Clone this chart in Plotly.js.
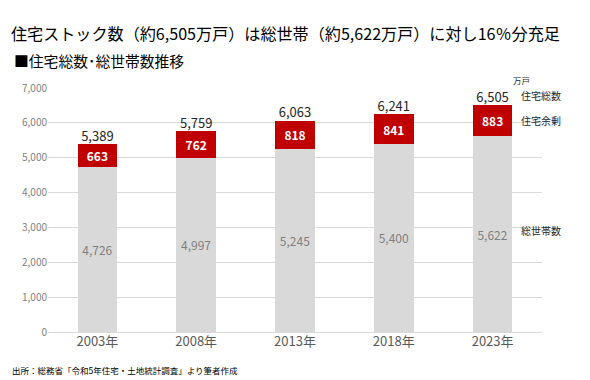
<!DOCTYPE html>
<html><head><meta charset="utf-8">
<script src="https://cdn.plot.ly/plotly-3.0.1.min.js"></script>
<style>body{margin:0;background:#fff}#c{width:590px;height:380px}</style>
</head><body><div id="c"></div>
<script>
const years = ['2003年','2008年','2013年','2018年','2023年'];
const households = [4726, 4997, 5245, 5400, 5622];
const surplus = [663, 762, 818, 841, 883];
const totals = [5389, 5759, 6063, 6241, 6505];
const yTicks = [0,1000,2000,3000,4000,5000,6000,7000];

const F = '"Noto Sans CJK JP", "Noto Sans", sans-serif';
const fmt = v => v.toLocaleString('en-US');

const data = [
  {type:'bar', x:years, y:households, marker:{color:'#D9D9D9'},
   text:households.map(fmt), textposition:'inside', insidetextanchor:'middle',
   textfont:{family:F,size:12,color:'#7F7F7F'}, hoverinfo:'none'},
  {type:'bar', x:years, y:surplus, marker:{color:'#C00000'},
   text:surplus.map(fmt), textposition:'inside', insidetextanchor:'middle',
   textfont:{family:F,size:12,color:'#FFFFFF',weight:'bold'}, hoverinfo:'none'},
  {type:'scatter', mode:'text', x:years, y:totals, text:totals.map(fmt),
   textposition:'top center', textfont:{family:F,size:13,color:'#262626'},
   hoverinfo:'none', cliponaxis:false}
];

const layout = {
  width:590, height:380,
  margin:{l:48, r:48, t:88, b:48},
  barmode:'stack', bargap:0.6, showlegend:false,
  paper_bgcolor:'#fff', plot_bgcolor:'#fff',
  font:{family:F},
  xaxis:{type:'category', showline:false, ticks:'', tickfont:{family:F,size:13,color:'#595959'}},
  yaxis:{range:[0,7000], tickvals:yTicks, ticktext:yTicks.map(fmt), showgrid:true, gridcolor:'#D9D9D9',
         zeroline:true, zerolinecolor:'#D9D9D9', showline:false, ticks:'', ticklen:0,
         tickfont:{family:F,size:10,color:'#7F7F7F'}},
  annotations:[
    {xref:'paper', yref:'paper', x:-0.078, y:1.224, xanchor:'left', yanchor:'middle', showarrow:false,
     text:'住宅ストック数（約6,505万戸）は総世帯（約5,622万戸）に対し16％分充足', font:{family:F,size:16.1,color:'#000'}},
    {xref:'paper', yref:'paper', x:-0.072, y:1.111, xanchor:'left', yanchor:'middle', showarrow:false,
     text:'■住宅総数･総世帯数推移', font:{family:F,size:14.8,color:'#000'}},
    {xref:'paper', yref:'paper', x:0.938, y:1.033, xanchor:'left', yanchor:'middle', showarrow:false,
     text:'万戸', font:{family:F,size:8.5,color:'#262626'}},
    {xref:'paper', yref:'y', x:0.953, y:6779, xanchor:'left', yanchor:'middle', showarrow:false,
     text:'住宅総数', font:{family:F,size:10,color:'#262626'}},
    {xref:'paper', yref:'y', x:0.953, y:6062, xanchor:'left', yanchor:'middle', showarrow:false,
     text:'住宅余剰', font:{family:F,size:10,color:'#262626'}},
    {xref:'paper', yref:'y', x:0.953, y:2898, xanchor:'left', yanchor:'middle', showarrow:false,
     text:'総世帯数', font:{family:F,size:10,color:'#262626'}},
    {xref:'paper', yref:'paper', x:-0.076, y:-0.156, xanchor:'left', yanchor:'middle', showarrow:false,
     text:'出所：総務省「令和5年住宅・土地統計調査」より筆者作成', font:{family:F,size:8.5,color:'#000'}}
  ]
};
Plotly.newPlot('c', data, layout, {displayModeBar:false, staticPlot:true});
</script></body></html>
